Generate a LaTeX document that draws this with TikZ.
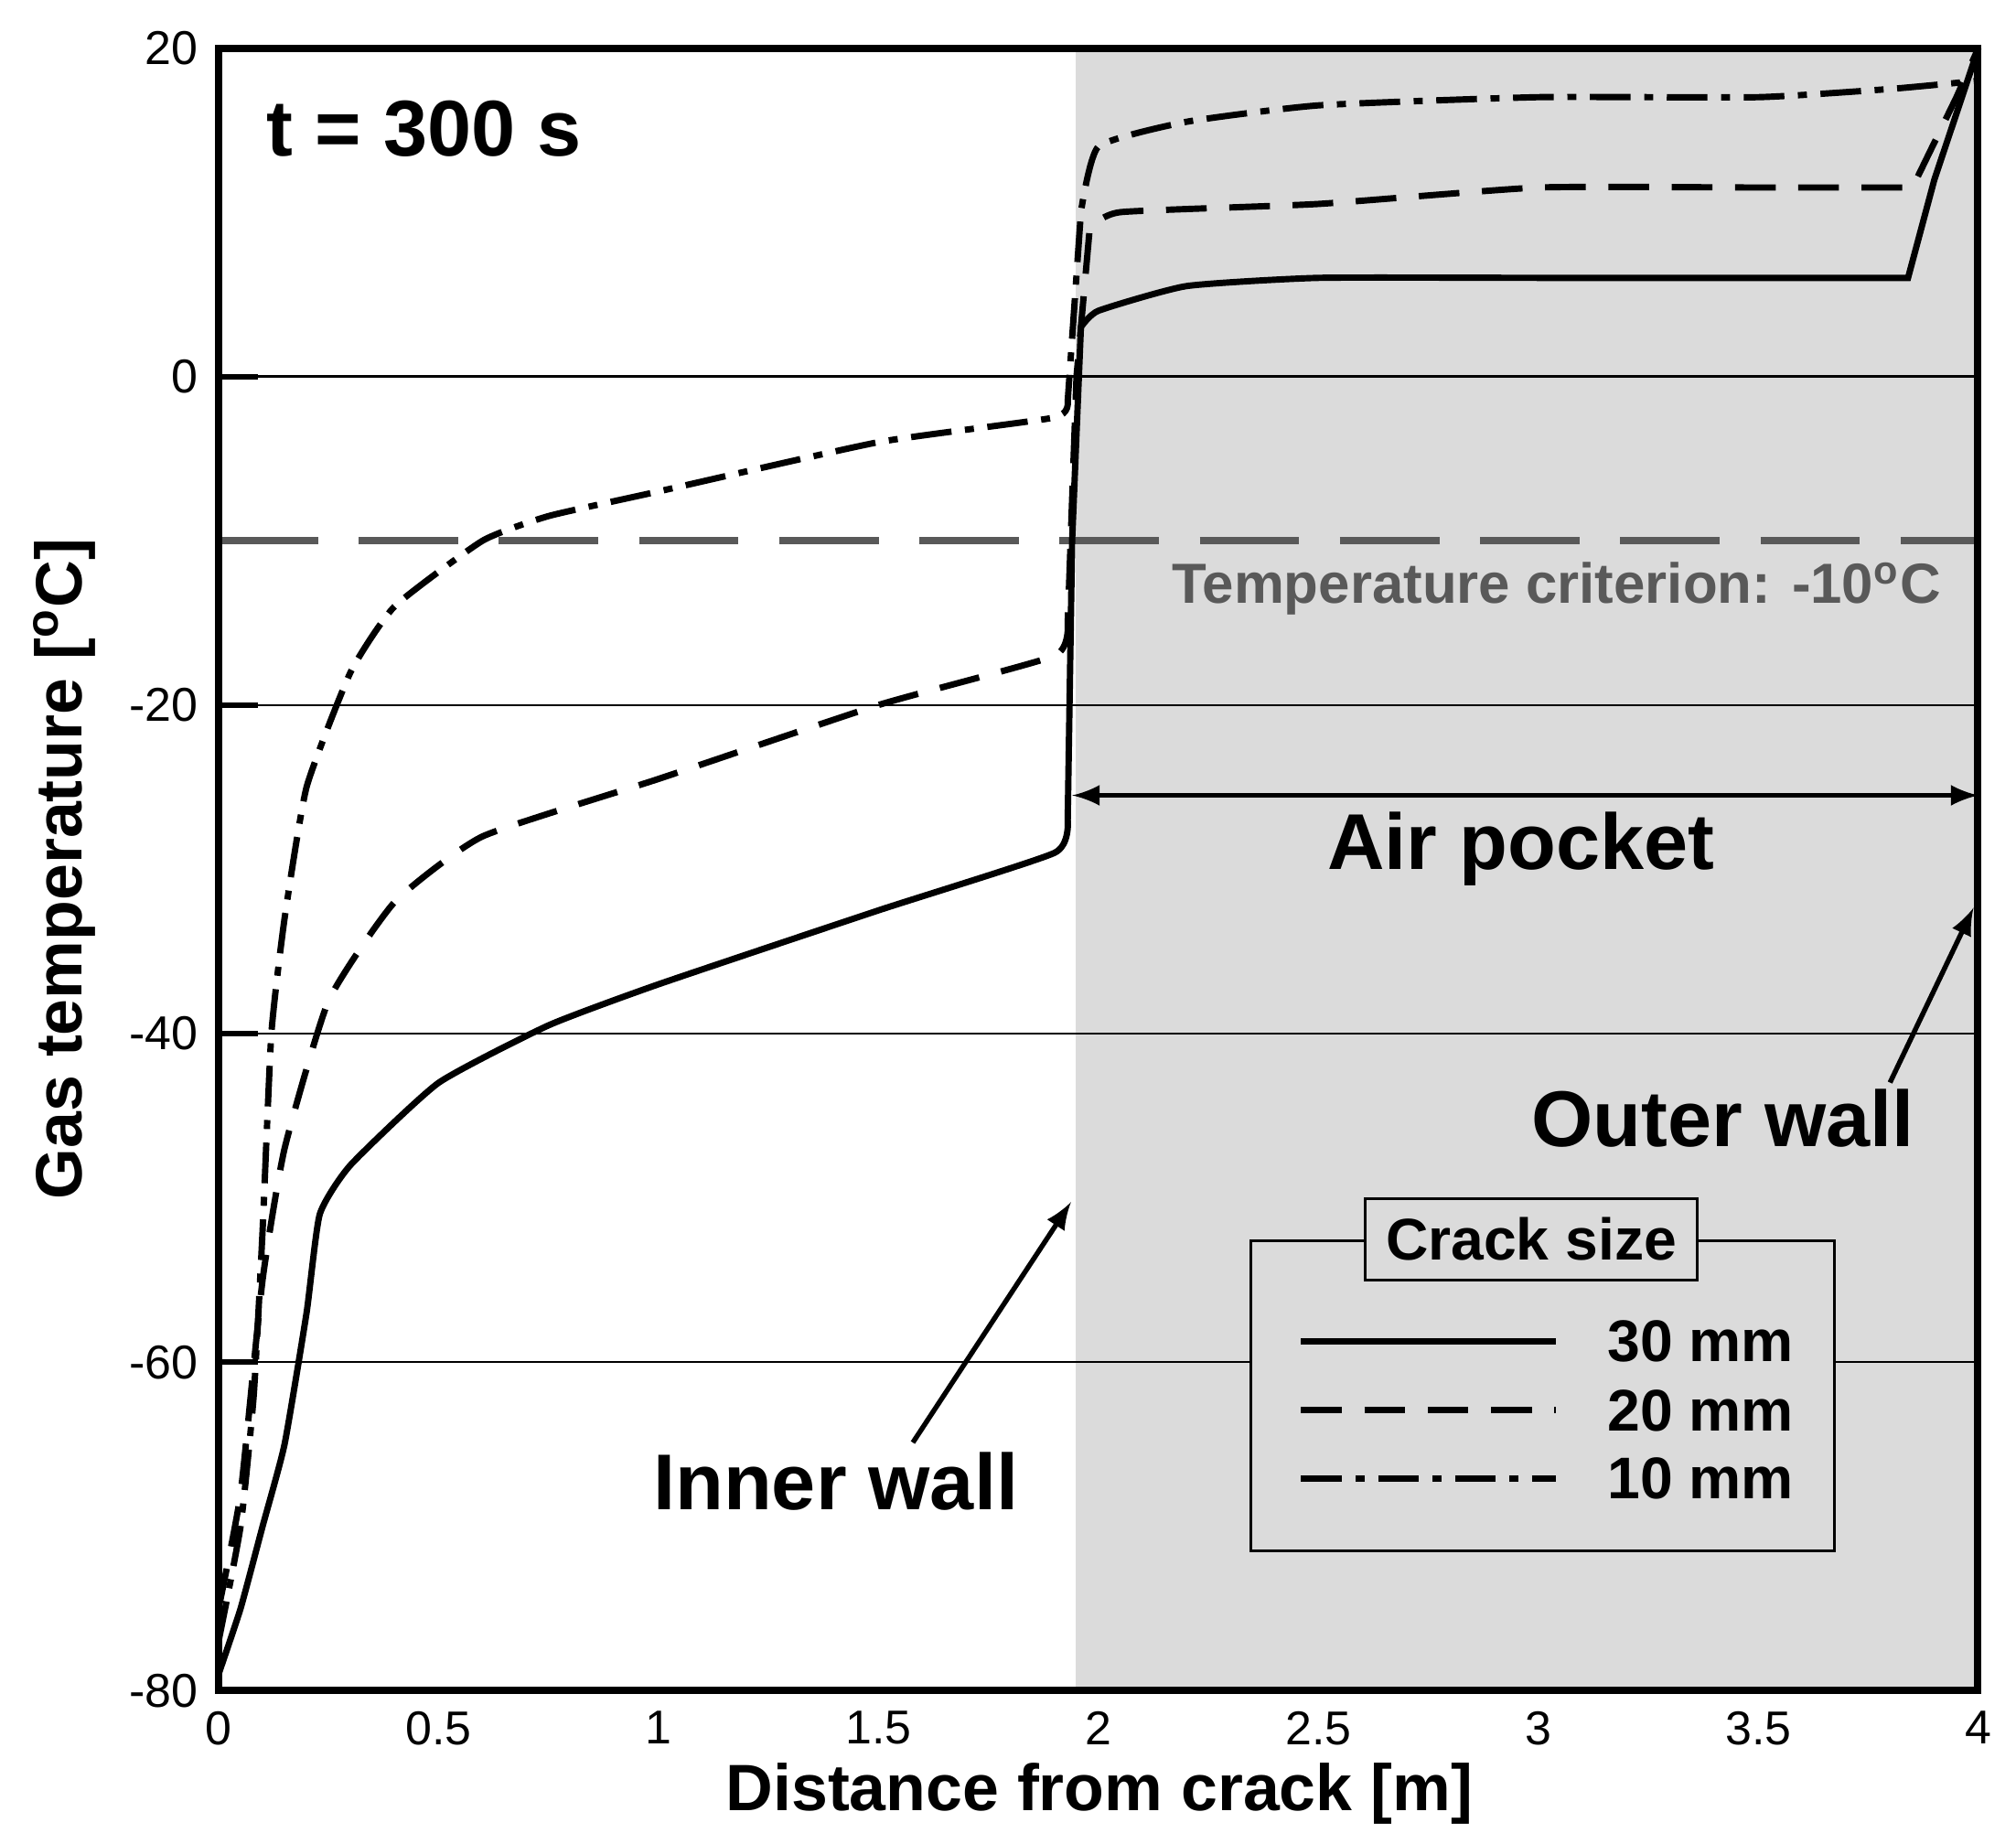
\documentclass[tikz,border=0pt]{standalone}
\usepackage{fontspec}
\setmainfont{Liberation Sans}
\begin{document}
\begin{tikzpicture}[x=0.01cm,y=-0.01cm,
  lbl/.style={font=\bfseries},
  curve/.style={line width=1.4pt, smooth, tension=0.3},
  arr/.style={-latex, line width=1.1pt}]
\useasboundingbox (0,0) rectangle (1568,1434);
% shading
\fill[gray!28] (837,38) rectangle (1538,1315);
% data scope
\begin{scope}[shift={(170,1315)}, x=3.42cm, y=0.1277cm]
\foreach \v in {0,-20,-40,-60} \draw[line width=0.5pt] (0,\v+80) -- (4,\v+80);
\draw[gray!70!black, line width=1.6pt, dash pattern=on 22pt off 9pt] (0,70) -- (4,70);
\draw[curve] plot coordinates {(0,1) (0.05,5) (0.1,10) (0.15,15) (0.2,23) (0.23,29) (0.3,32) (0.5,37) (0.75,40.5) (1,43) (1.5,47.5) (1.9,51) (1.93,53)} -- (1.94,70) -- (1.96,83) -- plot[smooth,tension=0.3] coordinates {(1.96,83) (2.0,84) (2.2,85.5) (2.5,86) (3,86) (3.5,86) (3.84,86)} -- (3.9,92) -- (4,100);
\draw[curve, dash pattern=on 9pt off 5pt] plot coordinates {(0,5) (0.05,12) (0.1,25) (0.15,33) (0.25,42) (0.4,48) (0.6,52) (1,55.5) (1.5,60) (1.9,63) (1.93,65)} -- (1.95,80) -- (1.98,89) -- plot[smooth,tension=0.3] coordinates {(1.98,89) (2.05,90) (2.5,90.5) (3,91.5) (3.5,91.5) (3.85,91.5)} -- (3.95,97) -- (4,100);
\draw[curve, dash pattern=on 9pt off 3pt on 2pt off 3pt] plot coordinates {(0,3) (0.05,10) (0.08,18) (0.1,28) (0.12,40) (0.15,47) (0.2,55) (0.3,62) (0.4,66) (0.6,70) (0.75,71.5) (1,73) (1.5,76) (1.9,77.5) (1.93,78.5)} -- (1.96,90) -- plot[smooth,tension=0.3] coordinates {(1.96,90) (2.0,94) (2.2,95.5) (2.5,96.5) (3,97) (3.5,97) (3.8,97.5) (4,98)};
\coordinate (apL) at (1.94,54.5);
\coordinate (apR) at (4,54.5);
\foreach \v in {20,0,-20,-40,-60,-80} {
  \draw[line width=1.2pt] (0,\v+80) -- (0.09,\v+80);
  \node[anchor=east, font=\fontsize{10.5}{10.5}\selectfont] at (-0.01,\v+80) {\v};}
\foreach \x/\t in {0/0,0.5/0.5,1/1,1.5/1.5,2/2,2.5/2.5,3/3,3.5/3.5,4/4} {
  \node[anchor=north, font=\fontsize{10.5}{10.5}\selectfont] at (\x,-0.3) {\t};}
\end{scope}
\draw[line width=1.6pt] (170,38) rectangle (1538,1315);
\draw[arr, latex-latex] (apL) -- (apR);
\node[font=\bfseries\fontsize{17.5}{17.5}\selectfont] (ap) at (1183,660) {Air pocket};
\node[font=\bfseries\fontsize{17.5}{17.5}\selectfont] (tt) at (330,100) {t = 300 s};
\node[anchor=east, text=gray!70!black, font=\bfseries\fontsize{12.5}{12.5}\selectfont] (crit) at (1522,458) {Temperature criterion: -10\textsuperscript{o}C};
\node[font=\bfseries\fontsize{17.5}{17.5}\selectfont] (iw) at (650,1152) {Inner wall};
\node[font=\bfseries\fontsize{17.5}{17.5}\selectfont] (ow) at (1340,870) {Outer wall};
\coordinate (iwt) at (833,935);
\coordinate (owt) at (1535,706);
\draw[arr] (710,1122) -- (iwt);
\draw[arr] (1470,842) -- (owt);
\node[font=\bfseries\fontsize{14.5}{14.5}\selectfont] (xl) at (855,1395) {Distance from crack [m]};
\node[rotate=90, font=\bfseries\fontsize{14.5}{14.5}\selectfont] (yl) at (50,676) {Gas temperature [\textsuperscript{o}C]};
% legend
\draw[fill=gray!28, line width=0.6pt] (973,965) rectangle (1427,1206);
\draw[fill=gray!28, line width=0.6pt] (1062,932) rectangle (1320,996);
\node[font=\bfseries\fontsize{13}{13}\selectfont] (lt) at (1191,964) {Crack size};
\draw[line width=1.4pt] (1012,1043) -- (1210,1043);
\draw[line width=1.4pt, dash pattern=on 9pt off 5pt] (1012,1097) -- (1210,1097);
\draw[line width=1.4pt, dash pattern=on 9pt off 3pt on 2pt off 3pt] (1012,1150) -- (1210,1150);
\node[anchor=west, font=\bfseries\fontsize{13}{13}\selectfont] (t1) at (1238,1043) {30 mm};
\node[anchor=west, font=\bfseries\fontsize{13}{13}\selectfont] (t2) at (1238,1097) {20 mm};
\node[anchor=west, font=\bfseries\fontsize{13}{13}\selectfont] (t3) at (1238,1150) {10 mm};
\end{tikzpicture}
\end{document}
